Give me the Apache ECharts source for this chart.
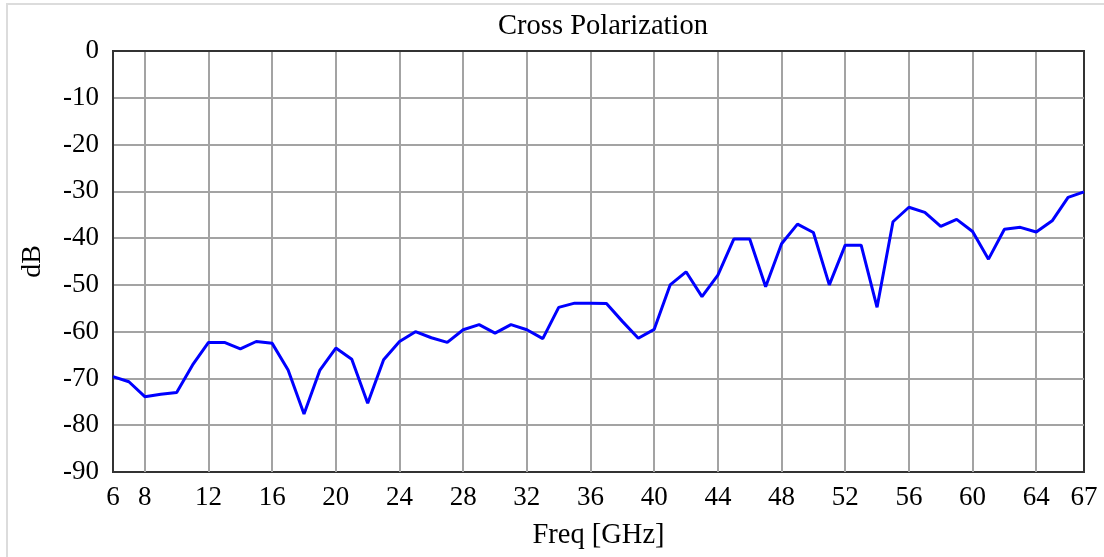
<!doctype html>
<html>
<head>
<meta charset="utf-8">
<title>Cross Polarization</title>
<script src="https://cdn.jsdelivr.net/npm/echarts@6/dist/echarts.min.js"></script>
<style>
  html, body { margin: 0; padding: 0; background: #fff; }
  #chart { width: 1104px; height: 557px; }
</style>
</head>
<body>
<div id="chart"></div>
<script>
// frequency points, GHz
let freq = [6, 7, 8, 9, 10, 11, 12, 13, 14, 15, 16, 17, 18, 19, 20, 21, 22, 23, 24, 25, 26,
            27, 28, 29, 30, 31, 32, 33, 34, 35, 36, 37, 38, 39, 40, 41, 42, 43, 44, 45, 46,
            47, 48, 49, 50, 51, 52, 53, 54, 55, 56, 57, 58, 59, 60, 61, 62, 63, 64, 65, 66, 67];
// cross polarization, dB
let xpol = [-69.6, -70.7, -73.9, -73.4, -73.0, -67.1, -62.3, -62.3, -63.7, -62.1, -62.5,
            -68.2, -77.6, -68.2, -63.5, -65.9, -75.3, -66.0, -62.1, -60.0, -61.3,
            -62.3, -59.6, -58.5, -60.3, -58.5, -59.6, -61.5, -54.8, -53.9, -53.9,
            -54.0, -57.8, -61.4, -59.5, -50.0, -47.2, -52.5, -47.9, -40.2, -40.2,
            -50.4, -41.2, -37.0, -38.8, -50.0, -41.5, -41.5, -54.8, -36.5, -33.4,
            -34.5, -37.5, -36.0, -38.6, -44.5, -38.1, -37.7, -38.7, -36.3, -31.3, -30.1];

let xLabels = [6, 8, 12, 16, 20, 24, 28, 32, 36, 40, 44, 48, 52, 56, 60, 64, 67];
let xGrid = [8, 12, 16, 20, 24, 28, 32, 36, 40, 44, 48, 52, 56, 60, 64];

let serif = "'Liberation Serif', 'DejaVu Serif', serif";

var chart = echarts.init(document.getElementById('chart'));

var pts = [];
for (var i = 0; i < freq.length; i++) {
    pts.push([freq[i], xpol[i]]);
}

var option = {
    animation: false,
    backgroundColor: '#fff',
    title: {
        text: 'Cross Polarization',
        left: 598,
        top: 7,
        textAlign: 'center',
        textStyle: { fontFamily: serif, fontSize: 28.5, fontWeight: 'normal', color: '#000' }
    },
    graphic: [{
        type: 'rect',
        shape: { x: 7, y: 4, width: 1120, height: 580 },
        style: { fill: 'none', stroke: '#dcdcdc', lineWidth: 2 },
        silent: true,
        z: -10
    }],
    grid: {
        left: 113, right: 20, top: 51, bottom: 85,
        show: true,
        borderColor: '#333',
        borderWidth: 2,
        backgroundColor: 'transparent'
    },
    xAxis: {
        type: 'value',
        min: 6,
        max: 67,
        name: 'Freq [GHz]',
        nameLocation: 'middle',
        nameGap: 49,
        nameTextStyle: { fontFamily: serif, fontSize: 28.5, color: '#000' },
        axisLine: { show: true, lineStyle: { color: '#333', width: 2 } },
        axisTick: { show: false, customValues: xGrid },
        axisLabel: {
            customValues: xLabels,
            fontFamily: serif, fontSize: 27, color: '#000', margin: 12
        },
        splitLine: { show: true, lineStyle: { color: '#a3a3a3', width: 2 } }
    },
    yAxis: {
        type: 'value',
        min: -90,
        max: 0,
        interval: 10,
        name: 'dB',
        nameLocation: 'middle',
        nameGap: 66,
        nameRotate: 90,
        nameTextStyle: { fontFamily: serif, fontSize: 28, color: '#000' },
        axisLine: { show: true, lineStyle: { color: '#333', width: 2 } },
        axisTick: { show: false },
        axisLabel: { fontFamily: serif, fontSize: 27, color: '#000', margin: 14 },
        splitLine: {
            show: true, showMinLine: false, showMaxLine: false,
            lineStyle: { color: '#a3a3a3', width: 2 }
        }
    },
    series: [{
        type: 'line',
        data: pts,
        showSymbol: false,
        smooth: false,
        lineStyle: { color: '#0000ff', width: 3 },
        z: 5
    }]
};

chart.setOption(option);
</script>
</body>
</html>
